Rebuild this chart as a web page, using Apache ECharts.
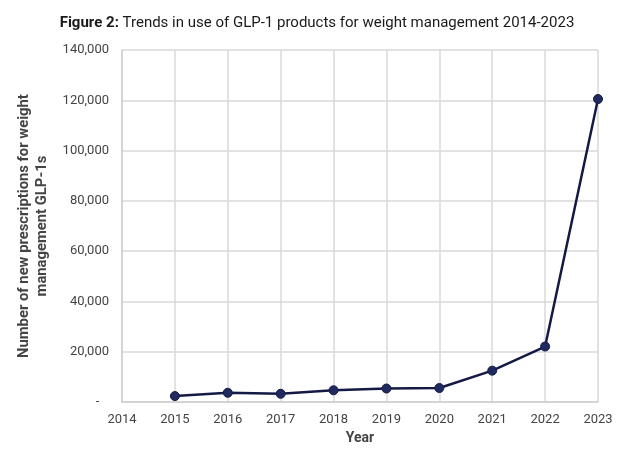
<!DOCTYPE html>
<html>
<head>
<meta charset="utf-8">
<script src="https://cdn.jsdelivr.net/npm/echarts@6/dist/echarts.min.js"></script>
<style>html,body{margin:0;padding:0;background:#fff}#c{width:634px;height:450px}</style>
</head>
<body>
<div id="c"></div>
<script>
const years = ['2014','2015','2016','2017','2018','2019','2020','2021','2022','2023'];
const prescriptions = [null, 2400, 3700, 3300, 4700, 5400, 5600, 12500, 22100, 120500];
const yTicks = [0, 20000, 40000, 60000, 80000, 100000, 120000, 140000];

const chart = echarts.init(document.getElementById('c'));
chart.setOption({
  animation: false,
  backgroundColor: '#fff',
  title: {
    text: '{b|Figure 2:} Trends in use of GLP-1 products for weight management 2014-2023',
    left: 'center', top: 11,
    textStyle: {
      fontFamily: 'Roboto', fontSize: 15, fontWeight: 'normal', color: '#1a1a1a',
      rich: { b: { fontFamily: 'Roboto', fontSize: 15, fontWeight: 'bold', color: '#1a1a1a' } }
    }
  },
  grid: { left: 122, right: 36, top: 50, bottom: 46, containLabel: false },
  xAxis: {
    type: 'category', data: years, boundaryGap: false,
    name: 'Year', nameLocation: 'middle', nameGap: 28,
    nameTextStyle: { fontFamily: 'Roboto', fontSize: 14, fontWeight: 'bold', color: '#444' },
    axisLine: { show: true, lineStyle: { color: '#cfcfcf', width: 1.5 } },
    axisTick: { show: false },
    axisLabel: { fontFamily: 'Roboto', fontSize: 13, color: '#444', margin: 11 },
    splitLine: { show: true, lineStyle: { color: '#d9d9d9', width: 1.5 } }
  },
  yAxis: {
    type: 'value', min: yTicks[0], max: yTicks[yTicks.length - 1], interval: 20000,
    name: 'Number of new prescriptions for weight\nmanagement GLP-1s',
    nameLocation: 'middle', nameGap: 63, nameRotate: 90,
    nameTextStyle: { fontFamily: 'Roboto', fontSize: 14.8, fontWeight: 'bold', color: '#444', lineHeight: 18 },
    axisLine: { show: true, lineStyle: { color: '#cfcfcf', width: 1.5 } },
    axisTick: { show: false },
    axisLabel: {
      fontFamily: 'Roboto', fontSize: 13, color: '#444', margin: 13,
      formatter: v => v === 0 ? '-   ' : v.toLocaleString('en-US')
    },
    splitLine: { show: true, lineStyle: { color: '#d9d9d9', width: 1.5 } }
  },
  series: [{
    type: 'line', data: prescriptions,
    symbol: 'circle', symbolSize: 9,
    lineStyle: { color: '#151a45', width: 2.5 },
    itemStyle: { color: '#1f2a5e', borderColor: '#151a45', borderWidth: 1 },
    connectNulls: false
  }]
});
</script>
</body>
</html>
